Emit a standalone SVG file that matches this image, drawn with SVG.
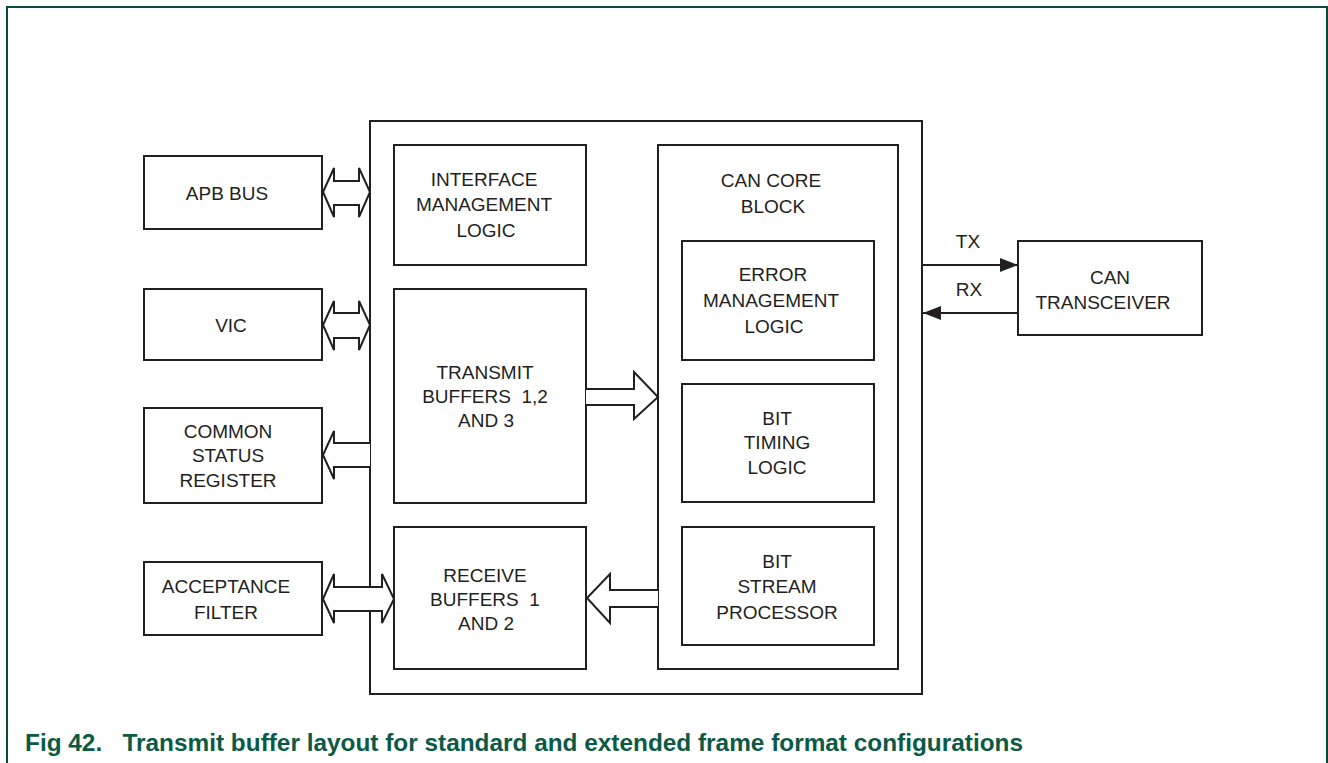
<svg xmlns="http://www.w3.org/2000/svg" width="1328" height="763" viewBox="0 0 1328 763">
<style>
.b{fill:#fff;stroke:#231f20;stroke-width:2}
.t{font-family:"Liberation Sans",Arial,sans-serif;font-size:19px;fill:#231f20;text-anchor:middle}
.a{fill:#fff;stroke:#231f20;stroke-width:2;stroke-linejoin:miter}
.l{stroke:#231f20;stroke-width:2;fill:none}
.cap{font-family:"Liberation Sans",Arial,sans-serif;font-size:24px;font-weight:bold;fill:#0b5a45}
</style>
<defs>
<marker id="ah" viewBox="0 0 18 14" refX="18" refY="7" markerWidth="18" markerHeight="14" markerUnits="userSpaceOnUse" orient="auto"><path d="M0,0 L18,7 L0,14 z" fill="#231f20"/></marker>
</defs>
<rect width="1328" height="763" fill="#fff"/>
<path d="M7,763 V7 H1327 V763" fill="none" stroke="#0b4a3a" stroke-width="2"/>

<g id="outer"><rect class="b" x="370" y="121" width="552" height="573"/></g>
<g id="apb"><rect class="b" x="144" y="156" width="178" height="73"/><text class="t" x="227" y="200">APB BUS</text></g>
<g id="vic"><rect class="b" x="144" y="289" width="178" height="71"/><text class="t" x="231" y="332">VIC</text></g>
<g id="csr"><rect class="b" x="144" y="408" width="178" height="95"/><text class="t" x="228" y="438">COMMON</text><text class="t" x="228" y="462">STATUS</text><text class="t" x="228" y="487">REGISTER</text></g>
<g id="acc"><rect class="b" x="144" y="562" width="178" height="73"/><text class="t" x="226" y="593">ACCEPTANCE</text><text class="t" x="226" y="619">FILTER</text></g>
<g id="iml"><rect class="b" x="394" y="145" width="192" height="120"/><text class="t" x="484" y="186">INTERFACE</text><text class="t" x="484" y="211">MANAGEMENT</text><text class="t" x="486" y="237">LOGIC</text></g>
<g id="txb"><rect class="b" x="394" y="289" width="192" height="214"/><text class="t" x="485" y="379">TRANSMIT</text><text class="t" x="485" y="403" xml:space="preserve">BUFFERS  1,2</text><text class="t" x="486" y="427">AND 3</text></g>
<g id="rxb"><rect class="b" x="394" y="527" width="192" height="142"/><text class="t" x="485" y="582">RECEIVE</text><text class="t" x="485" y="606" xml:space="preserve">BUFFERS  1</text><text class="t" x="486" y="630">AND 2</text></g>
<g id="core"><rect class="b" x="658" y="145" width="240" height="524"/><text class="t" x="771" y="187">CAN CORE</text><text class="t" x="773" y="213">BLOCK</text></g>
<g id="eml"><rect class="b" x="682" y="241" width="192" height="119"/><text class="t" x="773" y="281">ERROR</text><text class="t" x="771" y="307">MANAGEMENT</text><text class="t" x="774" y="333">LOGIC</text></g>
<g id="btl"><rect class="b" x="682" y="384" width="192" height="118"/><text class="t" x="777" y="425">BIT</text><text class="t" x="777" y="449">TIMING</text><text class="t" x="777" y="474">LOGIC</text></g>
<g id="bsp"><rect class="b" x="682" y="527" width="192" height="118"/><text class="t" x="777" y="568">BIT</text><text class="t" x="777" y="593">STREAM</text><text class="t" x="777" y="619">PROCESSOR</text></g>
<g id="cant"><rect class="b" x="1018" y="241" width="184" height="94"/><text class="t" x="1110" y="284">CAN</text><text class="t" x="1103" y="309">TRANSCEIVER</text></g>

<g id="connectors">
<path class="a" d="M323,192 L334,168 V181 H359 V168 L370,192 L359,217 V205 H334 V217 Z"/>
<path class="a" d="M323,325 L334,301 V313 H359 V301 L370,325 L359,350 V338 H334 V350 Z"/>
<path class="a" d="M370,443 H334 V431 L323,455 L334,479 V467 H370"/>
<path class="a" d="M323,599 L334,574 V587 H382 V574 L394,599 L382,623 V611 H334 V623 Z"/>
<path class="a" d="M586,389 H634 V372 L658,397 L634,419 V405 H586"/>
<path class="a" d="M658,590 H610 V574 L587,598 L610,623 V607 H658"/>
<line class="l" x1="922" y1="265" x2="1018" y2="265" marker-end="url(#ah)"/>
<line class="l" x1="1018" y1="313" x2="923" y2="313" marker-end="url(#ah)"/>
<text class="t" x="968" y="248">TX</text>
<text class="t" x="969" y="296">RX</text>
</g>

<text class="cap" x="25" y="751" xml:space="preserve" textLength="998" lengthAdjust="spacingAndGlyphs">Fig 42.   Transmit buffer layout for standard and extended frame format configurations</text>
</svg>
